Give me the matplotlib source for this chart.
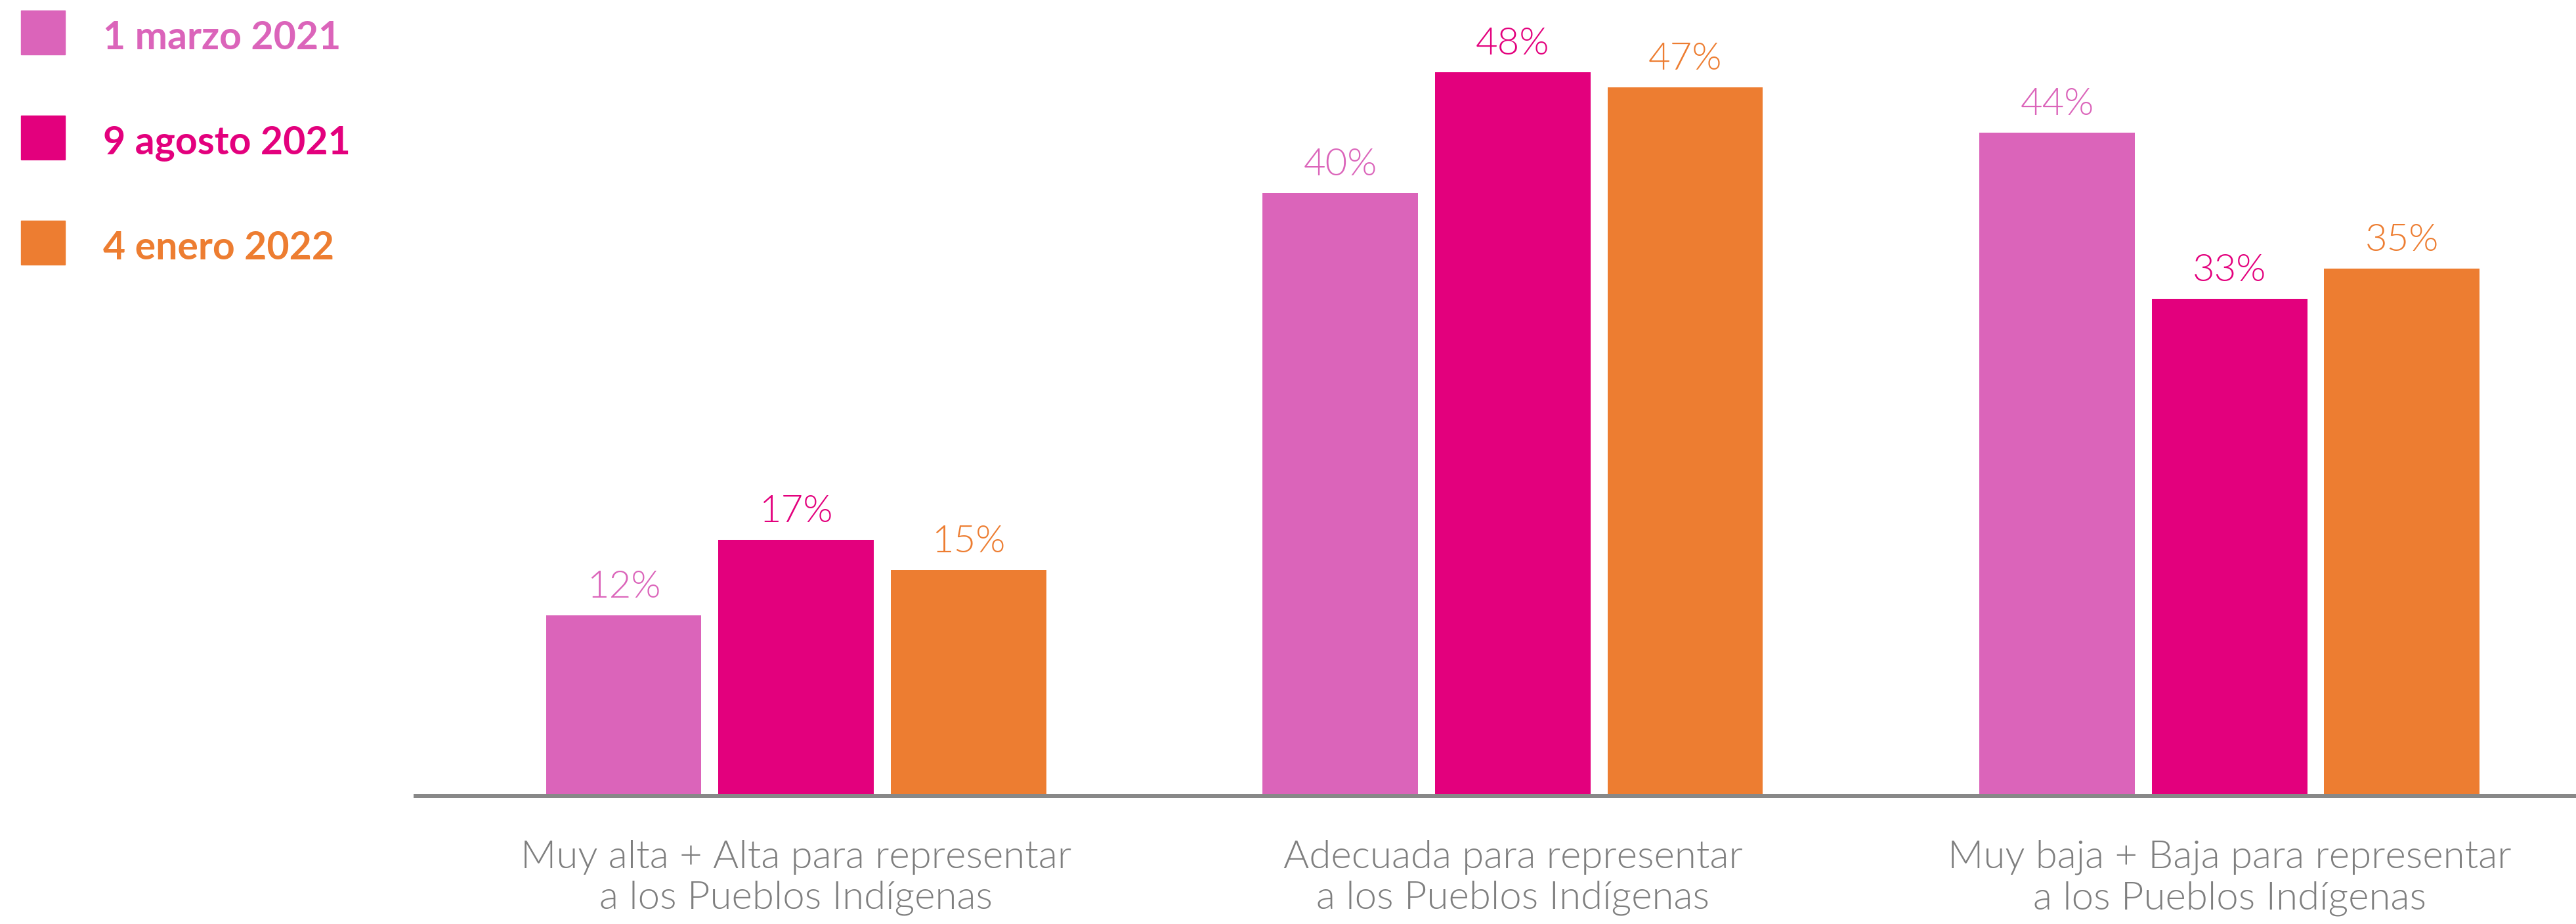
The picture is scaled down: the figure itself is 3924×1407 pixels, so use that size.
import matplotlib
matplotlib.use("Agg")
import matplotlib.pyplot as plt
from matplotlib.patches import Rectangle
import numpy as np

categories = [
    "Muy alta + Alta para representar\na los Pueblos Indígenas",
    "Adecuada para representar\na los Pueblos Indígenas",
    "Muy baja + Baja para representar\na los Pueblos Indígenas",
]
series_names = ["1 marzo 2021", "9 agosto 2021", "4 enero 2022"]
marzo_2021 = [12, 40, 44]
agosto_2021 = [17, 48, 33]
enero_2022 = [15, 47, 35]
series_values = [marzo_2021, agosto_2021, enero_2022]
colors = ["#DB64BA", "#E3007D", "#ED7D31"]

W, H = 3924, 1407
DPI = 100
fig = plt.figure(figsize=(W / DPI, H / DPI), dpi=DPI)
plt.rcParams['font.family'] = ['Lato', 'DejaVu Sans']

def px2pt(px):
    return px * 72.0 / DPI

base_px = 1212
top_px = 64.5
left_px = 633
ax = fig.add_axes([left_px / W, 1 - base_px / H, 1 - left_px / W, (base_px - top_px) / H])

x = np.arange(len(categories))
pitch = 0.2404
width = 0.2170
for i, (vals, col) in enumerate(zip(series_values, colors)):
    pos = x + (i - 1) * pitch
    bars = ax.bar(pos, vals, width=width, color=col, zorder=1)
    for b, v in zip(bars, vals):
        ax.annotate(f"{v}%", (b.get_x() + b.get_width() / 2, v),
                    xytext=(0, px2pt(27)), textcoords="offset points",
                    ha="center", va="baseline", color=col,
                    fontsize=px2pt(58), fontweight=300)

ax.set_xlim(-0.5307, 2.4831)
ax.set_ylim(0, 50)
for s in ["top", "right", "left"]:
    ax.spines[s].set_visible(False)
ax.spines["bottom"].set_color("#888888")
ax.spines["bottom"].set_linewidth(px2pt(6))
ax.set_yticks([])
ax.set_xticks(x)
ax.set_xticklabels(categories, fontsize=px2pt(60), color="#7F7F7F",
                   fontweight=300, linespacing=1.2)
ax.tick_params(axis="x", length=0, pad=px2pt(67))

# legend
sq = 67
for i, (name, col) in enumerate(zip(series_names, colors)):
    y_top = 16 + 160 * i
    fig.add_artist(Rectangle((32 / W, 1 - (y_top + sq) / H), sq / W, sq / H,
                             transform=fig.transFigure, color=col))
    fig.text(157 / W, 1 - (75 + 160 * i) / H, name, color=col,
             fontsize=px2pt(59), fontweight="bold", ha="left", va="baseline")

fig.savefig("out.png", dpi=DPI)
